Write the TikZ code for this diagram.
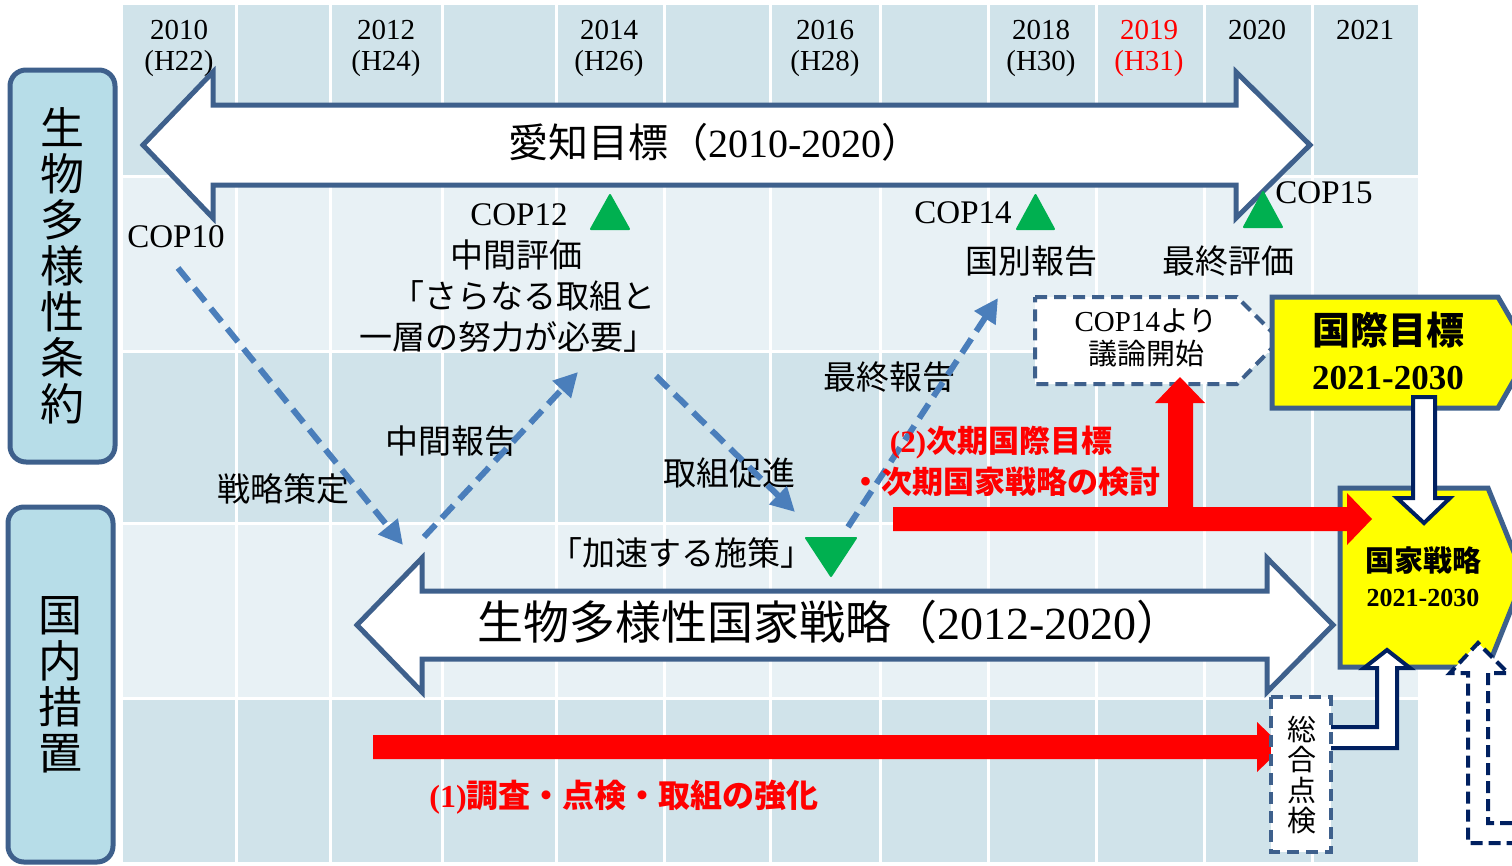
\documentclass[tikz,border=0pt]{standalone}
\usepackage{fontspec}
\setmainfont{Liberation Serif}
\newfontfamily\jp{Noto Sans CJK JP}
\usetikzlibrary{arrows.meta}
\definecolor{rowdark}{RGB}{208,227,234}
\definecolor{rowlight}{RGB}{232,241,245}
\definecolor{bordb}{RGB}{62,96,140}
\definecolor{dashb}{RGB}{74,126,187}
\definecolor{navyc}{RGB}{0,32,96}
\definecolor{grn}{RGB}{0,176,80}
\definecolor{lblue}{RGB}{183,221,232}
\definecolor{yel}{RGB}{255,255,0}
\newcommand\fsz[2]{\fontsize{#1pt}{#2pt}\selectfont}
\begin{document}
\begin{tikzpicture}[x=1pt,y=-1pt,line join=miter,
  jtxt/.style={font=\jp\fsz{33}{40},inner sep=0pt},
  ltxt/.style={font=\fsz{33}{38},inner sep=0pt},
  yr/.style={font=\fsz{29}{31},align=center,inner sep=0pt},
  rtxt/.style={font=\jp\bfseries\fsz{31}{36},text=red,inner sep=0pt},
  gtri/.style={fill=grn,draw=grn,line width=2pt,line join=round},
  dasharr/.style={draw=dashb,line width=6pt,dash pattern=on 17pt off 9pt,-{Triangle[length=24pt,width=24pt]}},
  bigarr/.style={draw=bordb,line width=5pt,fill=white},
  lbox/.style={draw=bordb,line width=5pt,fill=lblue,rounded corners=16pt,inner sep=0pt,align=center,font=\jp\fsz{44}{46}},
  ybox/.style={draw=bordb,line width=5pt,fill=yel},
  dbox/.style={draw=bordb,line width=4pt,fill=white,dash pattern=on 12pt off 7pt},
  navarr/.style={draw=navyc,line width=4pt,fill=white},
  redarr/.style={fill=red}]
\useasboundingbox (0,0) rectangle (1512,865);
\fill[white] (0,0) rectangle (1512,865);
\begin{scope}
\clip (0,0) rectangle (1512,865);
% grid
\foreach \ya/\yb/\c in {5/176/rowdark,176/351/rowlight,351/523/rowdark,523/698/rowlight,698/862/rowdark}
  \fill[\c] (123,\ya) rectangle (1418,\yb);
\foreach \yy in {176,351,523,698}
  \draw[white,line width=3pt] (123,\yy) -- (1418,\yy);
\foreach \xx in {236,330,442,556,664,770,880,988,1096,1204,1312}
  \draw[white,line width=3pt] (\xx,5) -- (\xx,862);
% header
\node[yr] (y10) at (179,48) {2010\\(H22)};
\node[yr] (y12) at (386,48) {2012\\(H24)};
\node[yr] (y14) at (609,48) {2014\\(H26)};
\node[yr] (y16) at (825,48) {2016\\(H28)};
\node[yr] (y18) at (1041,48) {2018\\(H30)};
\node[yr,text=red] (y19) at (1149,48) {2019\\(H31)};
\node[yr] (y20) at (1257,30) {2020};
\node[yr] (y21) at (1365,30) {2021};
% left labels
\node[lbox,minimum width=105pt,minimum height=392pt] (cbd) at (62.5,266) {生\\物\\多\\様\\性\\条\\約};
\node[lbox,minimum width=105pt,minimum height=355pt] (dom) at (60.5,684.5) {国\\内\\措\\置};
% Aichi arrow
\draw[bigarr] (143,145) -- (213,72) -- (213,105) -- (1236,105) -- (1236,72) -- (1310,145)
  -- (1236,218) -- (1236,185) -- (213,185) -- (213,218) -- cycle;
\node[inner sep=0pt,font=\fsz{40}{44}] (aichi) at (715,142) {{\jp 愛知目標（}2010-2020{\jp ）}};
% national strategy arrow
\draw[bigarr] (357,625) -- (422,558) -- (422,591) -- (1267,591) -- (1267,558) -- (1333,625)
  -- (1267,692) -- (1267,659) -- (422,659) -- (422,692) -- cycle;
\node[inner sep=0pt,font=\fsz{46}{50}] (nbsap) at (830,622) {{\jp 生物多様性国家戦略（}2012-2020{\jp ）}};
% COP labels and triangles
\node[ltxt] (cop10) at (176,237) {COP10};
\node[ltxt] (cop12) at (519,215) {COP12};
\node[ltxt] (cop14) at (963,213) {COP14};
\node[ltxt] (cop15) at (1324,193) {COP15};
\filldraw[gtri] (591,229) -- (629,229) -- (610,195) -- cycle;
\filldraw[gtri] (1017,229) -- (1054,229) -- (1035.5,195) -- cycle;
\filldraw[gtri] (1244,227) -- (1282,227) -- (1263,192) -- cycle;
\filldraw[gtri] (806,538) -- (856,538) -- (831,576) -- cycle;
% Japanese texts
\node[jtxt] (mid) at (516,255) {中間評価};
\node[jtxt] (q1) at (523,296) {「さらなる取組と};
\node[jtxt] (q2) at (508,337) {一層の努力が必要」};
\node[jtxt] (natrep) at (1031,261) {国別報告};
\node[jtxt] (fineval) at (1228,261) {最終評価};
\node[jtxt] (strat) at (283,489) {戦略策定};
\node[jtxt] (midrep) at (451,441) {中間報告};
\node[jtxt] (promo) at (729,473) {取組促進};
\node[jtxt] (finrep) at (889,377) {最終報告};
\node[jtxt] (accel) at (681,553) {「加速する施策」};
% blue dashed arrows
\coordinate (a1s) at (178,268); \coordinate (a1e) at (403,545);
\coordinate (a2s) at (424,537); \coordinate (a2e) at (578,372);
\coordinate (a3s) at (656,376); \coordinate (a3e) at (795,512);
\coordinate (a4s) at (848,527); \coordinate (a4e) at (998,298);
\draw[dasharr] (a1s) -- (a1e);
\draw[dasharr] (a2s) -- (a2e);
\draw[dasharr] (a3s) -- (a3e);
\draw[dasharr] (a4s) -- (a4e);
% COP14 discussion box
\draw[dbox] (1035,297) -- (1237,297) -- (1280,340) -- (1237,384) -- (1035,384) -- cycle;
\node[inner sep=0pt,align=center,font=\fsz{29}{33}] (disc) at (1146,338) {COP14{\jp より}\\{\jp 議論開始}};
% international target box
\draw[ybox] (1272,297) -- (1498,297) -- (1530,352) -- (1498,408) -- (1272,408) -- cycle;
\node[inner sep=0pt,font=\jp\bfseries\fsz{38}{40}] (itgt) at (1388,330) {国際目標};
\node[inner sep=0pt,font=\bfseries\fsz{35}{38}] (itgty) at (1388,378) {2021-2030};
% national strategy box
\draw[ybox] (1340,488) -- (1488,488) -- (1524,577) -- (1488,667) -- (1340,667) -- cycle;
\node[inner sep=0pt,font=\jp\bfseries\fsz{29}{32}] (nstr) at (1423,560) {国家戦略};
\node[inner sep=0pt,font=\bfseries\fsz{26}{28}] (nstry) at (1423,598) {2021-2030};
% red arrows
\fill[redarr] (373,735) -- (1257,735) -- (1257,722) -- (1283,747) -- (1257,772) -- (1257,759) -- (373,759) -- cycle;
\fill[redarr] (893,507) -- (1168,507) -- (1168,403) -- (1155,403) -- (1180,377) -- (1205,403) -- (1193,403)
  -- (1193,507) -- (1347,507) -- (1347,493) -- (1372,519) -- (1347,545) -- (1347,531) -- (893,531) -- cycle;
\node[rtxt] (r2a) at (1001,443) {{\rmfamily (2)}次期国際目標};
\node[rtxt] (r2b) at (1005,482) {・次期国家戦略の検討};
\node[rtxt,font=\jp\bfseries\fsz{32}{36}] (r1) at (624,797) {{\rmfamily (1)}調査・点検・取組の強化};
% navy down arrow
\draw[navarr] (1413,397) -- (1435,397) -- (1435,498) -- (1450,498) -- (1424,523) -- (1397,498) -- (1413,498) -- cycle;
% L arrow from review box
\draw[navarr] (1325,727) -- (1377,727) -- (1377,668) -- (1364,668) -- (1387,650) -- (1410,668) -- (1397,668) -- (1397,748) -- (1325,748) -- cycle;
% review box
\draw[dbox] (1271,697) rectangle (1331,852);
\node[inner sep=0pt,align=center,font=\jp\fsz{29}{30.5}] (review) at (1302,775) {総\\合\\点\\検};
% dashed navy arrow bottom right
\draw[navarr,dash pattern=on 12pt off 6pt] (1530,823) -- (1488,823) -- (1488,673) -- (1508,673) -- (1478,643)
  -- (1450,673) -- (1468,673) -- (1468,843) -- (1530,843);
\end{scope}
\end{tikzpicture}
\end{document}
